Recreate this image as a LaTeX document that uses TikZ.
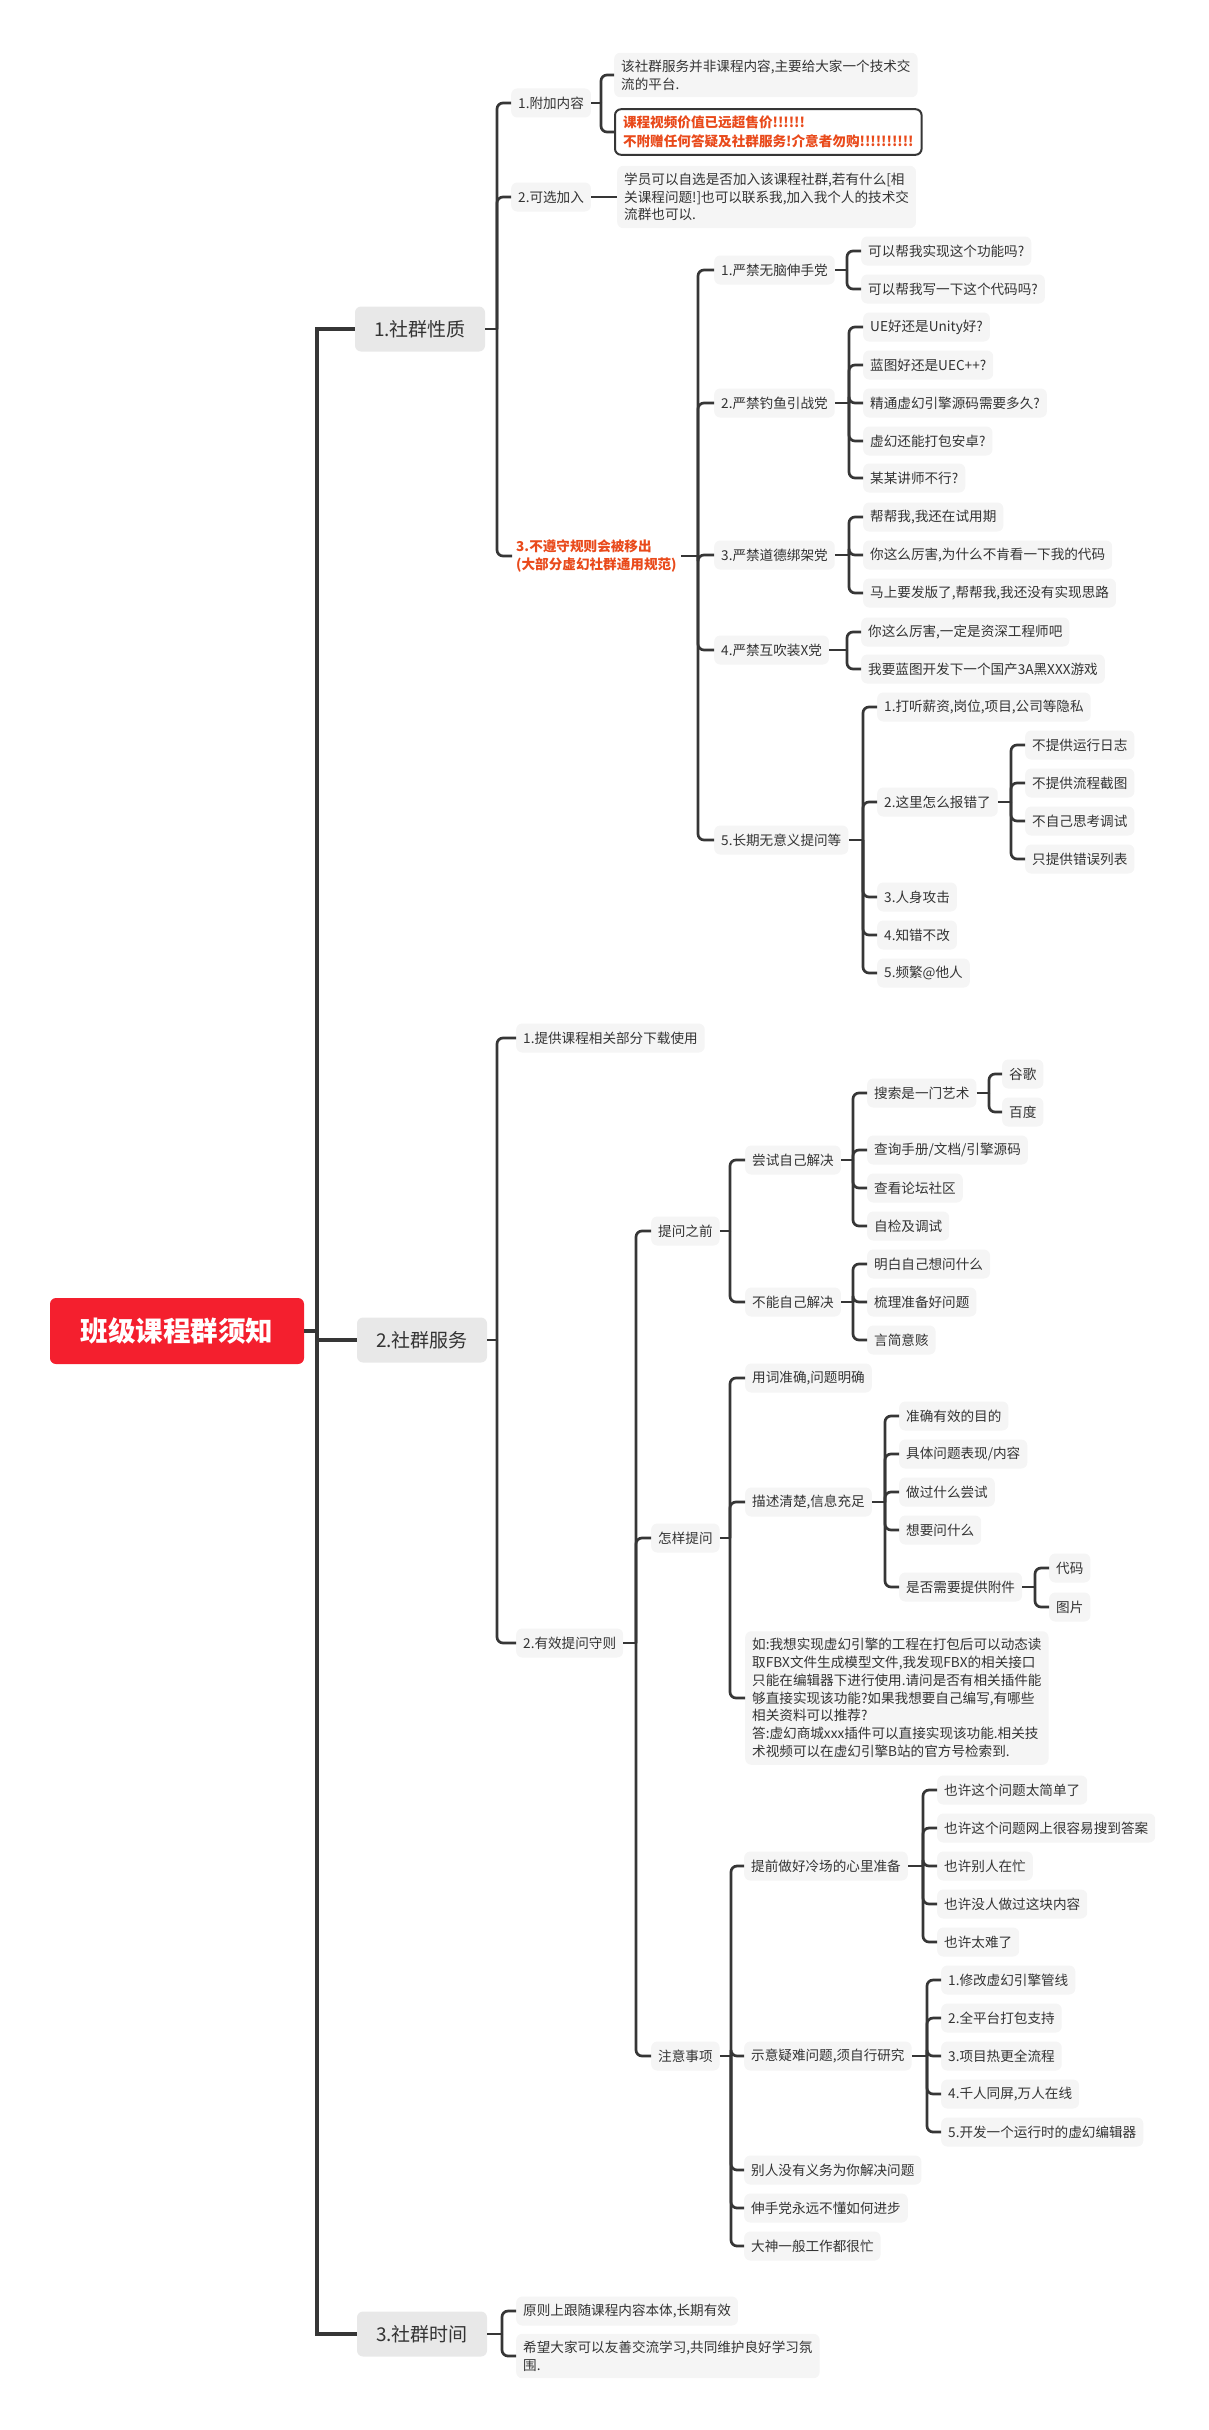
\documentclass[tikz,border=0pt]{standalone}
\usepackage{fontspec}
\setmainfont{Noto Sans CJK SC}
\usepackage{xcolor}
\definecolor{linkgray}{HTML}{363636}
\definecolor{leafbg}{HTML}{F5F5F5}
\definecolor{mainbg}{HTML}{E8E8E8}
\definecolor{rootred}{HTML}{F41F2E}
\definecolor{warnred}{HTML}{E94A1B}
\definecolor{txt}{HTML}{333333}

\begin{document}
\begin{tikzpicture}[x=1pt, y=-1pt,
    root/.style={fill=rootred, rounded corners=6pt, minimum width=254pt, minimum height=66pt, text=white, font=\fontsize{27.5}{30}\selectfont\bfseries},
    main/.style={fill=mainbg, rounded corners=6pt, minimum width=130pt, minimum height=45pt, text=txt, font=\fontsize{19}{22}\selectfont},
    leaf/.style={fill=leafbg, rounded corners=6pt, anchor=west, inner xsep=7pt, minimum height=29pt, text=txt, font=\fontsize{13.6}{17.8}\selectfont},
    note/.style={leaf, align=left, inner ysep=7pt},
    warn/.style={draw=linkgray, line width=2pt, fill=white, rounded corners=6pt, anchor=west, align=left, inner xsep=8pt, inner ysep=7pt, text=warnred, font=\fontsize{13.6}{18.5}\selectfont\bfseries},
    rule/.style={anchor=west, align=left, inner xsep=4pt, text=warnred, font=\fontsize{13.6}{18}\selectfont\bfseries},
    link/.style={draw=linkgray, line width=2.7pt, rounded corners=6pt},
    trunk/.style={draw=linkgray, line width=3.2pt}
]
\useasboundingbox (0,0) rectangle (1208,2430);

% spines
\coordinate (sp0) at (317,0);
\coordinate (spm1) at (497,0);
\coordinate (spm2) at (497,0);
\coordinate (spm3) at (502,0);
\coordinate (spa1) at (601,0);
\coordinate (spa3) at (698,0);
\coordinate (spr1) at (847,0);
\coordinate (spr2) at (849,0);
\coordinate (spr3) at (849,0);
\coordinate (spr4) at (847,0);
\coordinate (spr5) at (863,0);
\coordinate (spr5b) at (1011,0);
\coordinate (spb2) at (636,0);
\coordinate (spc1) at (730,0);
\coordinate (spc2) at (730,0);
\coordinate (spc3) at (731,0);
\coordinate (spd1) at (853,0);
\coordinate (spd2) at (853,0);
\coordinate (spe1) at (989,0);
\coordinate (spe2) at (885,0);
\coordinate (spatt) at (1035,0);
\coordinate (spf1) at (923,0);
\coordinate (spf2) at (927,0);

\node[root] (root) at (177,1331) {班级课程群须知};
\node[main] (m1) at (420,329) {1.社群性质};
\node[main] (m2) at (422,1340) {2.社群服务};
\node[main] (m3) at (422,2334) {3.社群时间};

% 1.社群性质
\node[leaf] (a1) at (511,103) {1.附加内容};
\node[note] (a1x) at (614,75) {该社群服务并非课程内容,主要给大家一个技术交\\流的平台.};
\node[warn] (a1y) at (614,132) {课程视频价值已远超售价!!!!!!\\不附赠任何答疑及社群服务!介意者勿购!!!!!!!!!!};
\node[leaf] (a2) at (511,197) {2.可选加入};
\node[note] (a2x) at (617,197) {学员可以自选是否加入该课程社群,若有什么[相\\关课程问题!]也可以联系我,加入我个人的技术交\\流群也可以.};
\node[rule] (a3) at (512,556) {3.不遵守规则会被移出\\(大部分虚幻社群通用规范)};

\node[leaf] (r1) at (714,270) {1.严禁无脑伸手党};
\node[leaf] (r2) at (714,403) {2.严禁钓鱼引战党};
\node[leaf] (r3) at (714,555) {3.严禁道德绑架党};
\node[leaf] (r4) at (714,650) {4.严禁互吹装X党};
\node[leaf] (r5) at (714,840) {5.长期无意义提问等};

\node[leaf] (r1a) at (861,251) {可以帮我实现这个功能吗?};
\node[leaf] (r1b) at (861,289) {可以帮我写一下这个代码吗?};
\node[leaf] (r2a) at (863,327) {UE好还是Unity好?};
\node[leaf] (r2b) at (863,365) {蓝图好还是UEC++?};
\node[leaf] (r2c) at (863,403) {精通虚幻引擎源码需要多久?};
\node[leaf] (r2d) at (863,441) {虚幻还能打包安卓?};
\node[leaf] (r2e) at (863,478) {某某讲师不行?};
\node[leaf] (r3a) at (863,517) {帮帮我,我还在试用期};
\node[leaf] (r3b) at (863,555) {你这么厉害,为什么不肯看一下我的代码};
\node[leaf] (r3c) at (863,593) {马上要发版了,帮帮我,我还没有实现思路};
\node[leaf] (r4a) at (861,632) {你这么厉害,一定是资深工程师吧};
\node[leaf] (r4b) at (861,669) {我要蓝图开发下一个国产3A黑XXX游戏};
\node[leaf] (r5a) at (877,707) {1.打听薪资,岗位,项目,公司等隐私};
\node[leaf] (r5b) at (877,802) {2.这里怎么报错了};
\node[leaf] (r5c) at (877,897) {3.人身攻击};
\node[leaf] (r5d) at (877,935) {4.知错不改};
\node[leaf] (r5e) at (877,973) {5.频繁@他人};
\node[leaf] (r5b1) at (1025,745) {不提供运行日志};
\node[leaf] (r5b2) at (1025,783) {不提供流程截图};
\node[leaf] (r5b3) at (1025,821) {不自己思考调试};
\node[leaf] (r5b4) at (1025,859) {只提供错误列表};

% 2.社群服务
\node[leaf] (b1) at (516,1038) {1.提供课程相关部分下载使用};
\node[leaf] (b2) at (516,1643) {2.有效提问守则};
\node[leaf] (c1) at (651,1231) {提问之前};
\node[leaf] (c2) at (651,1538) {怎样提问};
\node[leaf] (c3) at (651,2056) {注意事项};

\node[leaf] (d1) at (745,1160) {尝试自己解决};
\node[leaf] (d2) at (745,1302) {不能自己解决};
\node[leaf] (e1) at (867,1093) {搜索是一门艺术};
\node[leaf] (e2) at (867,1150) {查询手册/文档/引擎源码};
\node[leaf] (e3) at (867,1188) {查看论坛社区};
\node[leaf] (e4) at (867,1226) {自检及调试};
\node[leaf] (e1a) at (1002,1074) {谷歌};
\node[leaf] (e1b) at (1002,1112) {百度};
\node[leaf] (d2a) at (867,1264) {明白自己想问什么};
\node[leaf] (d2b) at (867,1302) {梳理准备好问题};
\node[leaf] (d2c) at (867,1340) {言简意赅};

\node[leaf] (g1) at (745,1378) {用词准确,问题明确};
\node[leaf] (g2) at (745,1502) {描述清楚,信息充足};
\node[note] (g3) at (745,1698) {如:我想实现虚幻引擎的工程在打包后可以动态读\\取FBX文件生成模型文件,我发现FBX的相关接口\\只能在编辑器下进行使用.请问是否有相关插件能\\够直接实现该功能?如果我想要自己编写,有哪些\\相关资料可以推荐?\\答:虚幻商城xxx插件可以直接实现该功能.相关技\\术视频可以在虚幻引擎B站的官方号检索到.};
\node[leaf] (g2a) at (899,1416) {准确有效的目的};
\node[leaf] (g2b) at (899,1454) {具体问题表现/内容};
\node[leaf] (g2c) at (899,1492) {做过什么尝试};
\node[leaf] (g2d) at (899,1530) {想要问什么};
\node[leaf] (g2e) at (899,1587) {是否需要提供附件};
\node[leaf] (att1) at (1049,1568) {代码};
\node[leaf] (att2) at (1049,1607) {图片};

\node[leaf] (f1) at (744,1866) {提前做好冷场的心里准备};
\node[leaf] (f2) at (744,2056) {示意疑难问题,须自行研究};
\node[leaf] (f3) at (744,2170) {别人没有义务为你解决问题};
\node[leaf] (f4) at (744,2208) {伸手党永远不懂如何进步};
\node[leaf] (f5) at (744,2246) {大神一般工作都很忙};
\node[leaf] (f1a) at (937,1790) {也许这个问题太简单了};
\node[leaf] (f1b) at (937,1828) {也许这个问题网上很容易搜到答案};
\node[leaf] (f1c) at (937,1866) {也许别人在忙};
\node[leaf] (f1d) at (937,1904) {也许没人做过这块内容};
\node[leaf] (f1e) at (937,1942) {也许太难了};
\node[leaf] (f2a) at (941,1980) {1.修改虚幻引擎管线};
\node[leaf] (f2b) at (941,2018) {2.全平台打包支持};
\node[leaf] (f2c) at (941,2056) {3.项目热更全流程};
\node[leaf] (f2d) at (941,2094) {4.千人同屏,万人在线};
\node[leaf] (f2e) at (941,2132) {5.开发一个运行时的虚幻编辑器};

% 3.社群时间
\node[leaf] (h1) at (516,2311) {原则上跟随课程内容本体,长期有效};
\node[note] (h2) at (516,2356) {希望大家可以友善交流学习,共同维护良好学习氛\\围.};

% trunk
\draw[trunk] (root.east) -- (root.east -| sp0);
\draw[trunk] (m1.west) -| (sp0 |- m3.west) -- (m3.west);
\draw[trunk] (m2.west -| sp0) -- (m2.west);

% branches
\foreach \p/\s/\kids in {m1/spm1/{a1,a2,a3}, m2/spm2/{b1,b2}, m3/spm3/{h1,h2},
    a1/spa1/{a1x,a1y}, a3/spa3/{r1,r2,r3,r4,r5}, r1/spr1/{r1a,r1b},
    r2/spr2/{r2a,r2b,r2c,r2d,r2e}, r3/spr3/{r3a,r3b,r3c}, r4/spr4/{r4a,r4b},
    r5/spr5/{r5a,r5b,r5c,r5d,r5e}, r5b/spr5b/{r5b1,r5b2,r5b3,r5b4},
    b2/spb2/{c1,c2,c3}, c1/spc1/{d1,d2}, d1/spd1/{e1,e2,e3,e4}, e1/spe1/{e1a,e1b},
    d2/spd2/{d2a,d2b,d2c}, c2/spc2/{g1,g2,g3}, g2/spe2/{g2a,g2b,g2c,g2d,g2e},
    g2e/spatt/{att1,att2}, c3/spc3/{f1,f2,f3,f4,f5}, f1/spf1/{f1a,f1b,f1c,f1d,f1e},
    f2/spf2/{f2a,f2b,f2c,f2d,f2e}} {
  \draw[link] (\p.east) -- (\p.east -| \s);
  \foreach \c in \kids \draw[link] (\p.east -| \s) |- (\c.west);
}
\draw[link] (a2.east) -- (a2x.west);
\end{tikzpicture}
\end{document}
